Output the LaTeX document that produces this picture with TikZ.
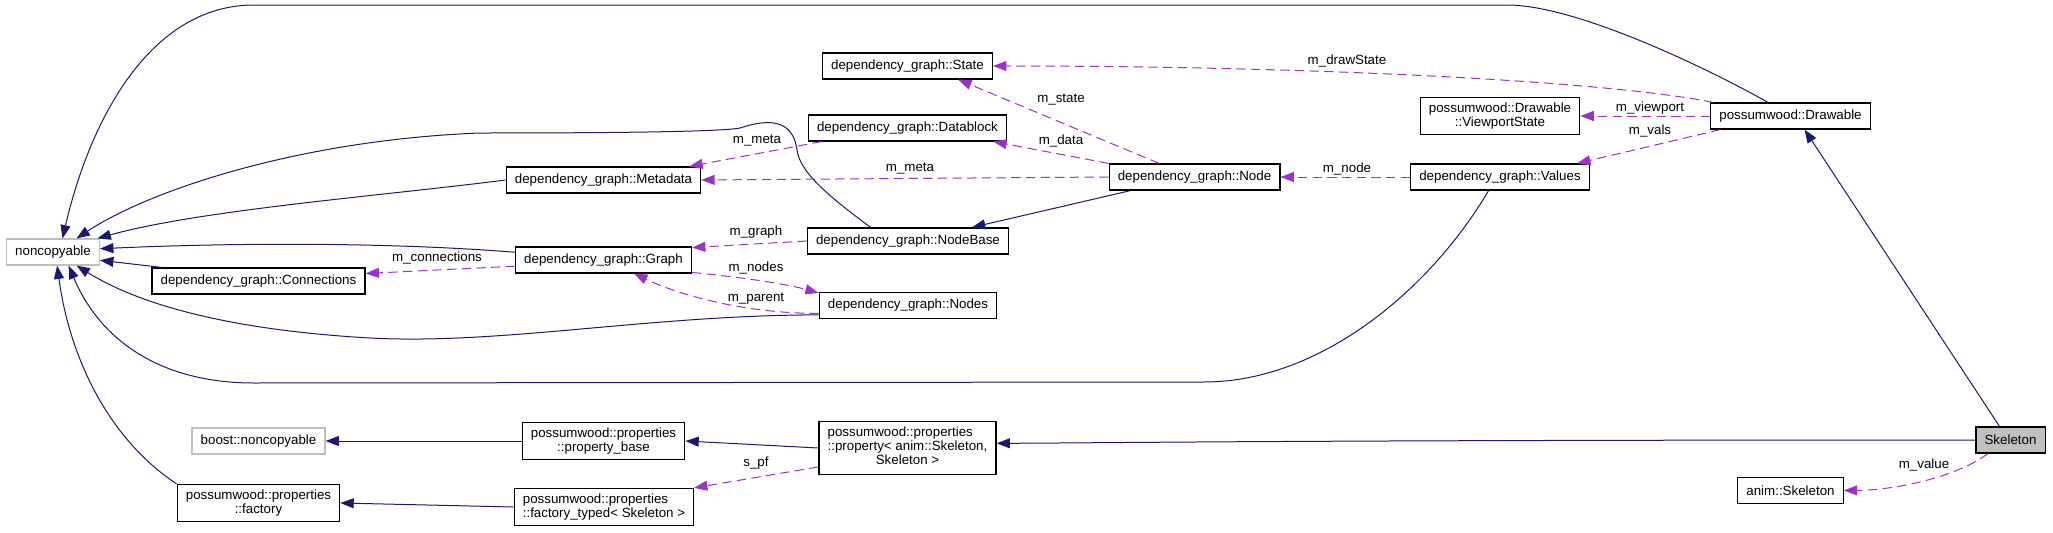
\documentclass[tikz,border=0pt]{standalone}
\usepackage{fontspec}
\setmainfont{Liberation Sans}
\usetikzlibrary{arrows.meta}
\definecolor{dxnavy}{HTML}{191970}
\definecolor{dxpurple}{HTML}{9A32CD}
\definecolor{dxgray}{HTML}{BFBFBF}
\tikzset{classbox/.style={rectangle, draw=black, line width=0.9pt, fill=white,
  inner xsep=6.5pt, inner ysep=4pt, minimum height=19.5pt, align=center}}
\tikzset{extbox/.style={classbox, draw=dxgray}}
\tikzset{selfbox/.style={classbox, fill=dxgray}}
\tikzset{inherit/.style={draw=dxnavy, line width=0.75pt, -{Triangle[length=10pt,width=7.5pt]}}}
\tikzset{member/.style={draw=dxpurple, line width=0.75pt, dash pattern=on 7pt off 4pt,
  -{Triangle[length=10pt,width=7.5pt]}}}
\tikzset{lbl/.style={inner sep=0pt}}

\begin{document}
\begin{tikzpicture}[x=0.75pt, y=-0.75pt, font=\fontsize{10}{10.5}\selectfont]
\useasboundingbox (0,0) rectangle (2053,532);
% classes
\node[extbox] (nc) at (53,252) {noncopyable};
\node[classbox] (state) at (907.5,66) {dependency\_graph::State};
\node[classbox] (dblock) at (907.5,128) {dependency\_graph::Datablock};
\node[classbox] (meta) at (603.5,180) {dependency\_graph::Metadata};
\node[classbox] (gnode) at (1194.5,177) {dependency\_graph::Node};
\node[classbox] (values) at (1500,177) {dependency\_graph::Values};
\node[classbox] (vpstate) at (1500,116) {possumwood::Drawable\\::ViewportState};
\node[classbox] (drawable) at (1790.5,116) {possumwood::Drawable};
\node[classbox] (nbase) at (908,241) {dependency\_graph::NodeBase};
\node[classbox] (graph) at (603.5,260) {dependency\_graph::Graph};
\node[classbox] (conns) at (258.5,281) {dependency\_graph::Connections};
\node[classbox] (gnodes) at (908,305.5) {dependency\_graph::Nodes};
\node[extbox] (bnc) at (258.5,441) {boost::noncopyable};
\node[classbox] (pbase) at (603.5,441) {possumwood::properties\\::property\_base};
\node[classbox] (prop) at (907.5,448) {\begin{tabular}{@{}l@{}}possumwood::properties\\::property< anim::Skeleton,\\\multicolumn{1}{@{}c@{}}{Skeleton >}\end{tabular}};
\node[classbox] (factory) at (258.5,503) {possumwood::properties\\::factory};
\node[classbox, align=left] (ftyped) at (604,507) {possumwood::properties\\::factory\_typed< Skeleton >};
\node[selfbox] (skel) at (2010.5,440) {Skeleton};
\node[classbox] (askel) at (1790.5,490.5) {anim::Skeleton};

% inheritance
\draw[inherit] (drawable.149) .. controls (1720,75) and (1580,5) .. (1507,5) -- (254,5)
  .. controls (150,5) and (90,120) .. (nc.55);
\draw[inherit] (nbase.160) .. controls (820,190) and (800,170) .. (797,150)
  .. controls (793,120) and (770,118) .. (740,128) .. controls (720,132) and (600,133) .. (480,133)
  .. controls (300,140) and (150,190) .. (nc.30);
\draw[inherit] (meta.west) .. controls (380,196) and (200,210) .. (nc.17);
\draw[inherit] (graph.175) .. controls (400,243) and (250,242) .. (nc.4);
\draw[inherit] (conns.172) -- (nc.-10);
\draw[inherit] (gnodes.186) .. controls (650,315) and (500,345) .. (370,338)
  .. controls (230,330) and (140,305) .. (nc.-30);
\draw[inherit] (values.230) .. controls (1430,290) and (1320,382) .. (1204,382) -- (254,383)
  .. controls (160,383) and (100,340) .. (nc.-41);
\draw[inherit] (factory.north west) .. controls (110,440) and (70,360) .. (nc.-73);
\draw[inherit] (gnode.192) -- (nbase.12);
\draw[inherit] (prop.west) -- (pbase.east);
\draw[inherit] (pbase.west) -- (bnc.east);
\draw[inherit] (ftyped.west) -- (factory.east);
\draw[inherit] (skel.west) .. controls (1300,440) and (1100,443) .. (prop.3);
\draw[inherit] (skel.129) -- (drawable.-44);

% members
\draw[member] (drawable.170) .. controls (1600,80) and (1300,66) .. (state.east);
\draw[member] (gnode.159) -- (state.-15);
\draw[member] (gnode.171) -- (dblock.-9);
\draw[member] (gnode.west) -- (meta.east);
\draw[member] (dblock.189) -- (meta.9);
\draw[member] (values.west) -- (gnode.east);
\draw[member] (drawable.west) -- (vpstate.east);
\draw[member] (drawable.191) -- (values.10);
\draw[member] (nbase.west) -- (graph.8);
\draw[member] (graph.-8) .. controls (750,278) and (790,285) .. (gnodes.172);
\draw[member] (gnodes.185) .. controls (760,314) and (690,300) .. (graph.-24);
\draw[member] (graph.184) -- (conns.4);
\draw[member] (prop.192) -- (ftyped.12);
\draw[member] (skel.211) .. controls (1960,475) and (1900,490) .. (askel.east);

% member labels
\node[lbl] (ldraw) at (1347,61) {m\_drawState};
\node[lbl] (lstate) at (1061,100) {m\_state};
\node[lbl] (ldata) at (1061,141) {m\_data};
\node[lbl] (lmeta) at (910,169) {m\_meta};
\node[lbl] (lmetab) at (757,141) {m\_meta};
\node[lbl] (lnode) at (1347,169) {m\_node};
\node[lbl] (lview) at (1650,108) {m\_viewport};
\node[lbl] (lvals) at (1650,131) {m\_vals};
\node[lbl] (lgraph) at (756,232) {m\_graph};
\node[lbl] (lnodes) at (756,268) {m\_nodes};
\node[lbl] (lparent) at (756,299) {m\_parent};
\node[lbl] (lconn) at (437,258) {m\_connections};
\node[lbl] (lspf) at (756,463) {s\_pf};
\node[lbl] (lvalue) at (1924,465) {m\_value};
\end{tikzpicture}
\end{document}
